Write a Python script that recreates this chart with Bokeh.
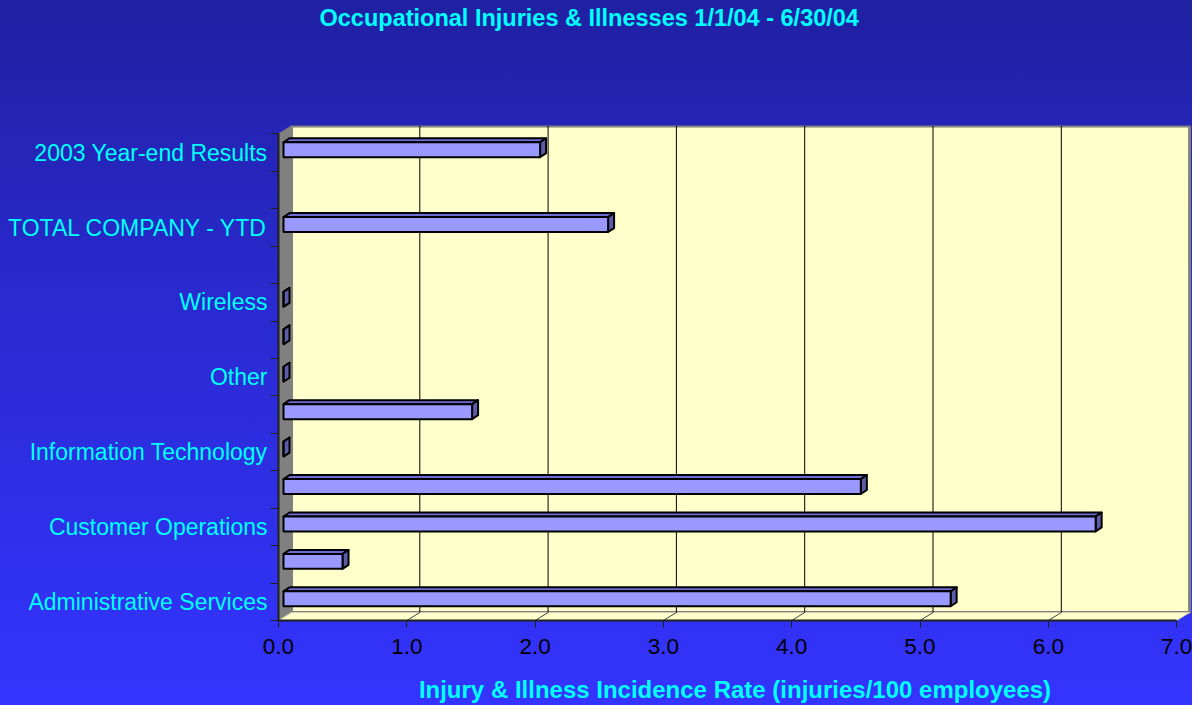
from bokeh.plotting import figure
from bokeh.models import FixedTicker, Range1d, PrintfTickFormatter, Title
from bokeh.embed import file_html
from bokeh.resources import INLINE

# ---------------- data ----------------
categories = [
    "Administrative Services", "", "Customer Operations", "",
    "Information Technology", "", "Other", "", "Wireless", "",
    "TOTAL COMPANY - YTD", "", "2003 Year-end Results",
]
values = [5.2, 0.46, 6.33, 4.5, 0.0, 1.47, 0.0, 0.0, 0.0, None, 2.53, None, 2.0]
x_ticks = [0, 1, 2, 3, 4, 5, 6, 7]
title_text = "Occupational Injuries & Illnesses 1/1/04 - 6/30/04"
x_title = "Injury & Illness Incidence Rate (injuries/100 employees)"

# ---------------- layout ----------------
W, H = 1192, 705
FL, FR, FT, FB = 278, 1191, 125, 621      # frame edges
PX = 128.3                                 # px per x unit
PY = 37.5                                  # px per category
x_max = x_ticks[-1]
n = len(categories)

def dx(px):
    return px / PX

def dy(px):
    return px / PY

x_end = (FR - FL) / PX
y_start = -0.5
y_end = -0.5 + (FB - FT) / PY

FONT = "Liberation Sans"
CYAN = "#00ffff"

p = figure(width=W, height=H,
           x_range=Range1d(0, x_end), y_range=Range1d(y_start, y_end),
           output_backend="svg", toolbar_location=None,
           min_border_left=FL, min_border_right=W - FR,
           min_border_top=FT, min_border_bottom=H - FB,
           border_fill_color=None, background_fill_color=None,
           outline_line_color=None)
p.styles = {"background": "linear-gradient(to bottom, #2020a2 0%, #2a2ad2 45%, #3434ff 100%)"}
p.grid.visible = False

# title: empty default title, spacer title, then real title (outermost)
p.title.text = ""
p.title.standoff = 0
p.add_layout(Title(text=" ", text_font_size="1px", standoff=92), "above")
p.add_layout(Title(text=title_text, align="left", offset=41, standoff=0,
                   text_font=FONT, text_font_size="23.5px", text_font_style="bold",
                   text_color=CYAN), "above")

# 3D walls
DX3, DY3 = 13, 8
top_y = n - 0.5
p.quad(left=dx(DX3), right=x_max + dx(DX3), bottom=-0.5 + dy(DY3), top=top_y + dy(DY3),
       fill_color="#ffffcc", line_color="#808080", line_width=3)
p.patch(x=[0, dx(DX3), dx(DX3), 0],
        y=[-0.5, -0.5 + dy(DY3), top_y + dy(DY3), top_y],
        fill_color="#808080", line_color="#808080", line_width=1)
p.patch(x=[0, x_max, x_max + dx(DX3), dx(DX3)],
        y=[-0.5, -0.5, -0.5 + dy(DY3), -0.5 + dy(DY3)],
        fill_color="#ffffcc", line_color="#d0d0b0", line_width=1)

# back-wall gridlines and floor diagonals
gx = [v + dx(DX3) for v in x_ticks[1:-1]]
p.segment(x0=gx, y0=[-0.5 + dy(DY3)] * len(gx), x1=gx, y1=[top_y + dy(DY3)] * len(gx),
          line_color="black", line_width=1)
p.segment(x0=x_ticks[1:-1], y0=[-0.5] * (len(x_ticks) - 2),
          x1=[v + dx(DX3) for v in x_ticks[1:-1]], y1=[-0.5 + dy(DY3)] * (len(x_ticks) - 2),
          line_color="#404040", line_width=1)

# 3D bars
BX, BY = 5, 3        # bar front offset (px)
BDX, BDY = 6, 4      # bar depth (px)
BH = 7.5             # half height (px)
fl, fr, fb, ft = [], [], [], []
top_xs, top_ys, side_xs, side_ys = [], [], [], []
for i, v in enumerate(values):
    if v is None:
        continue
    L = dx(BX)
    R = v + dx(BX)
    yc = i + dy(BY)
    b = yc - dy(BH)
    t = yc + dy(BH)
    fl.append(L); fr.append(R); fb.append(b); ft.append(t)
    top_xs.append([L, R, R + dx(BDX), L + dx(BDX)])
    top_ys.append([t, t, t + dy(BDY), t + dy(BDY)])
    side_xs.append([R, R + dx(BDX), R + dx(BDX), R])
    side_ys.append([b, b + dy(BDY), t + dy(BDY), t])

p.patches(xs=top_xs, ys=top_ys, fill_color="#6c6cd4", line_color="black", line_width=2,
          line_join="round")
p.patches(xs=side_xs, ys=side_ys, fill_color="#5c5ca8", line_color="black", line_width=2,
          line_join="round")
p.quad(left=fl, right=fr, bottom=fb, top=ft, fill_color="#9999ff",
       line_color="black", line_width=2)

# axes
xa = p.xaxis[0]
xa.ticker = FixedTicker(ticks=x_ticks)
xa.formatter = PrintfTickFormatter(format="%.1f")
xa.bounds = (0, x_max)
xa.axis_line_color = "#202020"
xa.axis_line_width = 2
xa.major_tick_out = 7
xa.major_tick_in = 0
xa.major_tick_line_color = "#202020"
xa.minor_tick_line_color = None
xa.major_label_text_font = FONT
xa.major_label_text_font_size = "22.5px"
xa.major_label_text_color = "black"
xa.major_label_standoff = 11
xa.axis_label = x_title
xa.axis_label_text_font = FONT
xa.axis_label_text_font_size = "24px"
xa.axis_label_text_font_style = "bold"
xa.axis_label_text_color = CYAN
xa.axis_label_standoff = 19

ya = p.yaxis[0]
label_ticks = [i for i, c in enumerate(categories) if c]
ya.ticker = FixedTicker(ticks=label_ticks,
                        minor_ticks=[i - 0.5 for i in range(n + 1)])
ya.major_label_overrides = {i: categories[i] for i in label_ticks}
ya.bounds = (-0.5, top_y)
ya.axis_line_color = "#202020"
ya.axis_line_width = 2
ya.major_tick_out = 0
ya.major_tick_in = 0
ya.minor_tick_out = 8
ya.minor_tick_in = 0
ya.minor_tick_line_color = "#202020"
ya.minor_tick_line_width = 1
ya.major_label_text_font = FONT
ya.major_label_text_font_size = "23px"
ya.major_label_text_color = CYAN
ya.major_label_standoff = 3

open("out.html", "w").write(file_html(p, INLINE))
